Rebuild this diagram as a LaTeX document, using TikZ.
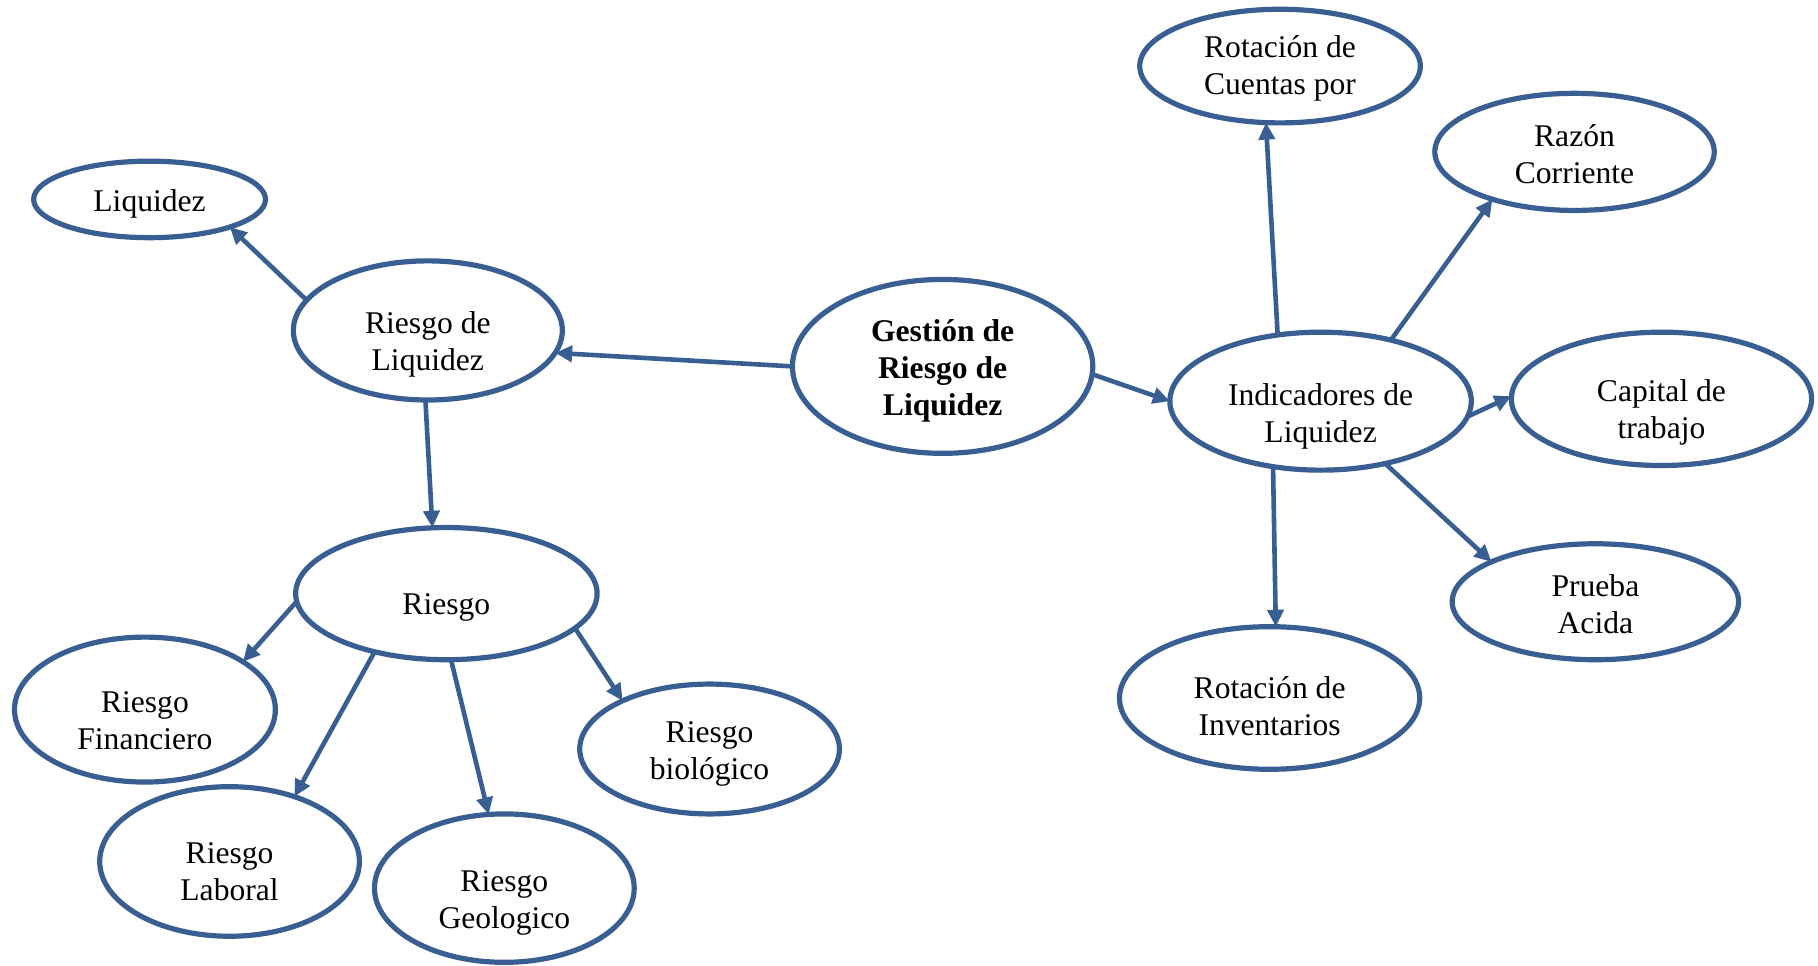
\documentclass[tikz,border=0pt]{standalone}
\usepackage{fontspec}
\setmainfont{Liberation Serif}
\usetikzlibrary{shapes.geometric,arrows.meta}
\definecolor{edgeblue}{RGB}{57,94,146}
\begin{document}
\begin{tikzpicture}[x=0.5797pt,y=-0.5797pt,
  bub/.style={ellipse,draw=edgeblue,line width=2.6pt,inner sep=0pt,outer sep=0pt},
  txt/.style={inner sep=0pt,align=center,font=\fontsize{15.8}{18.5}\selectfont},
  conn/.style={draw=edgeblue,line width=2.3pt,-{Triangle[length=8.5pt,width=8pt]}}]
\useasboundingbox (0,0) rectangle (1568,833);
\newcommand{\bubble}[7]{%
  \node[bub,minimum width=#4*0.5797pt,minimum height=#5*0.5797pt] (#1) at (#2,#3) {};
  \node[txt] (#1-t) at ([yshift=-#6*0.5797pt]#1.center) {#7};}
\bubble{liq}{129}{172}{200}{66}{4}{Liquidez}
\bubble{rliq}{369}{285}{232}{120}{12}{Riesgo de\\Liquidez}
\bubble{gest}{813}{316}{259}{150}{4}{\bfseries Gestión de\\\bfseries Riesgo de\\\bfseries Liquidez}
\bubble{ind}{1139}{346}{260}{119}{13}{Indicadores de\\Liquidez}
\bubble{rcu}{1104}{57}{242}{98}{2}{Rotación de\\Cuentas por}
\bubble{raz}{1358}{131}{241}{101}{2}{Razón\\Corriente}
\bubble{cap}{1433}{344}{259}{115}{12}{Capital de\\trabajo}
\bubble{pru}{1376}{519}{247}{100}{2}{Prueba\\Acida}
\bubble{rinv}{1095}{602}{259}{123}{7}{Rotación de\\Inventarios}
\bubble{rie}{385}{512}{260}{114}{12}{Riesgo}
\bubble{fin}{125}{612}{225}{125}{10}{Riesgo\\Financiero}
\bubble{lab}{198}{743}{224}{129}{9}{Riesgo\\Laboral}
\bubble{geo}{435}{766}{224}{128}{13}{Riesgo\\Geologico}
\bubble{bio}{612}{646}{224}{112}{4}{Riesgo\\biológico}
\draw[conn] (rliq.166.8) -- (liq.341);
\draw[conn] (gest.180) -- (rliq.350);
\draw[conn] (gest.357) -- (ind.180);
\draw[conn] (ind.123.5) -- (rcu.256);
\draw[conn] (ind.41) -- (raz.210.4);
\draw[conn] (ind.354.7) -- (cap.179);
\draw[conn] (ind.316.5) -- (pru.159.7);
\draw[conn] (ind.234.7) -- (rinv.85.4);
\draw[conn] (rliq.268) -- (rie.102.4);
\draw[conn] (rie.183.5) -- (fin.26.6);
\draw[conn] (rie.219) -- (lab.45.9);
\draw[conn] (rie.274) -- (geo.102);
\draw[conn] (rie.345.5) -- (bio.151);
\end{tikzpicture}
\end{document}
